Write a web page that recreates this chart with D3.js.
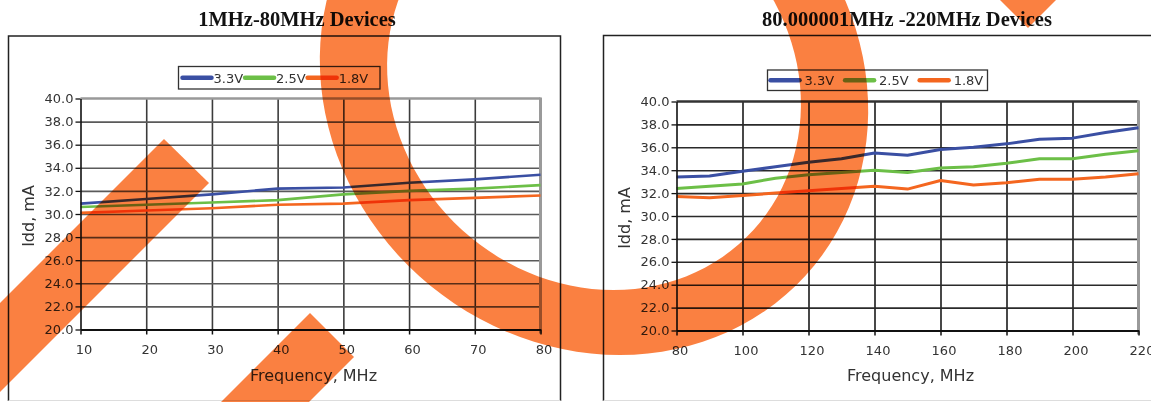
<!DOCTYPE html>
<html>
<head>
<meta charset="utf-8">
<script src="https://cdn.jsdelivr.net/npm/d3@7"></script>
<style>
  html, body { margin: 0; padding: 0; background: #fff; }
  svg { display: block; }
</style>
</head>
<body>
<svg id="chart" width="1151" height="402"></svg>
<script>
// ---------------- DATA ----------------
const seriesNames = ["3.3V", "2.5V", "1.8V"];
const seriesColors = ["#3a4fa3", "#6cbf47", "#f4661f"];

const leftTitle = "1MHz-80MHz Devices";
const leftFreq = [10, 20, 30, 40, 50, 60, 70, 80];
const left33 = [30.9, 31.3, 31.7, 32.2, 32.3, 32.7, 33.0, 33.4];
const left25 = [30.6, 30.8, 31.0, 31.2, 31.7, 32.0, 32.2, 32.5];
const left18 = [30.1, 30.3, 30.5, 30.8, 30.9, 31.2, 31.4, 31.6];
const leftXTicks = [10, 20, 30, 40, 50, 60, 70, 80];

const rightTitle = "80.000001MHz -220MHz Devices";
const rightFreq = [80, 90, 100, 110, 120, 130, 140, 150, 160, 170, 180, 190, 200, 210, 220];
const right33 = [33.4, 33.5, 33.9, 34.3, 34.7, 35.0, 35.5, 35.3, 35.8, 36.0, 36.3, 36.7, 36.8, 37.3, 37.7];
const right25 = [32.4, 32.6, 32.8, 33.3, 33.6, 33.8, 34.0, 33.8, 34.2, 34.3, 34.6, 35.0, 35.0, 35.4, 35.7];
const right18 = [31.7, 31.6, 31.8, 32.0, 32.2, 32.4, 32.6, 32.35, 33.1, 32.7, 32.9, 33.2, 33.2, 33.4, 33.7];
const rightXTicks = [80, 100, 120, 140, 160, 180, 200, 220];

const yTicks = [20, 22, 24, 26, 28, 30, 32, 34, 36, 38, 40];
const yLabel = "Idd, mA";
const xLabel = "Frequency, MHz";

// ---------------- DRAW ----------------
const svg = d3.select("#chart");
svg.append("rect").attr("width", 1151).attr("height", 402).attr("fill", "#fff");

const FONT = "'DejaVu Sans', Arial, sans-serif";

function drawChart(cfg) {
  const g = svg.append("g");
  // outer frame
  g.append("path")
    .attr("d", `M${cfg.box[0]},401 V${cfg.box[1]} H${cfg.box[2]} V401`)
    .attr("fill", "none").attr("stroke", "#222").attr("stroke-width", 1.5);
  g.append("line").attr("x1", cfg.box[0]).attr("x2", cfg.box[2]).attr("y1", 400.5).attr("y2", 400.5)
    .attr("stroke", "#ddd").attr("stroke-width", 1);

  // title
  g.append("text").attr("x", cfg.titleX).attr("y", 26)
    .attr("text-anchor", "middle")
    .attr("font-family", "'Liberation Serif', 'Times New Roman', serif")
    .attr("font-weight", "bold").attr("font-size", "20.5px").attr("fill", "#111")
    .text(cfg.title);

  const x = d3.scaleLinear().domain(cfg.xDomain).range([cfg.px0, cfg.px1]);
  const y = d3.scaleLinear().domain([20, 40]).range([cfg.py1, cfg.py0]);

  // vertical grid
  const gx = g.append("g").attr("transform", `translate(0,${cfg.py1})`)
    .call(d3.axisBottom(x).tickValues(cfg.xTicks.slice(1, -1)).tickSize(-(cfg.py1 - cfg.py0)).tickFormat(""));
  gx.select(".domain").remove();
  gx.selectAll("line").attr("stroke", cfg.vGrid).attr("stroke-width", 1.6);

  // horizontal grid
  const gy = g.append("g").attr("transform", `translate(${cfg.px0},0)`)
    .call(d3.axisLeft(y).tickValues(yTicks.slice(1, -1)).tickSize(-(cfg.px1 - cfg.px0)).tickFormat(""));
  gy.select(".domain").remove();
  gy.selectAll("line").attr("stroke", cfg.hGrid).attr("stroke-width", 1.6);

  // top and right plot borders (grey)
  g.append("line").attr("x1", cfg.px0).attr("x2", cfg.px1).attr("y1", cfg.py0).attr("y2", cfg.py0)
    .attr("stroke", cfg.topColor).attr("stroke-width", 2.6);
  g.append("line").attr("x1", cfg.px1).attr("x2", cfg.px1).attr("y1", cfg.py0 - 1).attr("y2", cfg.py1 + 4)
    .attr("stroke", "#9a9a9a").attr("stroke-width", 3);

  // data lines
  const line = d3.line().x(d => x(d[0])).y(d => y(d[1]));
  cfg.series.forEach((vals, i) => {
    g.append("path")
      .datum(cfg.freq.map((f, j) => [f, vals[j]]))
      .attr("d", line)
      .attr("fill", "none")
      .attr("stroke", seriesColors[i])
      .attr("stroke-width", cfg.lineW)
      .attr("stroke-linejoin", "round");
  });

  // axes
  const ax = g.append("g").attr("transform", `translate(0,${cfg.py1})`)
    .call(d3.axisBottom(x).tickValues(cfg.xTicks).tickSize(5).tickSizeOuter(0).tickPadding(10));
  ax.select(".domain").attr("stroke", "#111").attr("stroke-width", 2.2);
  ax.selectAll(".tick line").attr("stroke", "#111").attr("stroke-width", 1.5);
  ax.selectAll("text").attr("font-family", FONT).attr("font-size", "13px").attr("fill", "#333")
    .attr("dx", 3);

  const ay = g.append("g").attr("transform", `translate(${cfg.px0},0)`)
    .call(d3.axisLeft(y).tickValues(yTicks).tickSize(5).tickSizeOuter(0).tickPadding(2)
      .tickFormat(d3.format(".1f")));
  ay.select(".domain").attr("stroke", "#111").attr("stroke-width", 1.6);
  ay.selectAll(".tick line").attr("stroke", "#111").attr("stroke-width", 1.3);
  ay.selectAll("text").attr("font-family", FONT).attr("font-size", "13px").attr("fill", "#333");

  // axis titles
  g.append("text").attr("x", (cfg.px0 + cfg.px1) / 2 + 3).attr("y", 381)
    .attr("text-anchor", "middle").attr("font-family", FONT).attr("font-size", "16px").attr("fill", "#333")
    .text(xLabel);
  g.append("text").attr("transform", `translate(${cfg.yTitleX},${(cfg.py0 + cfg.py1) / 2 + 2}) rotate(-90)`)
    .attr("text-anchor", "middle").attr("font-family", FONT).attr("font-size", "16px").attr("fill", "#333")
    .text(yLabel);

  // legend
  const lg = g.append("g");
  const lb = cfg.legend;
  let cx = lb.x + lb.pad;
  const cy = lb.y + lb.h / 2;
  seriesNames.forEach((name, i) => {
    lg.append("line").attr("x1", cx).attr("x2", cx + lb.lineLen).attr("y1", cy).attr("y2", cy)
      .attr("stroke", seriesColors[i]).attr("stroke-width", 4.5).attr("stroke-linecap", "round");
    cx += lb.lineLen + lb.gapLine;
    const t = lg.append("text").attr("x", cx).attr("y", cy + 5)
      .attr("font-family", FONT).attr("font-size", "13px").attr("fill", "#333").text(name);
    cx += t.node().getComputedTextLength() + lb.gapText;
  });
  lg.insert("rect", ":first-child").attr("x", lb.x).attr("y", lb.y).attr("width", lb.w).attr("height", lb.h)
    .attr("fill", "#fff").attr("stroke", "#333").attr("stroke-width", 1.3);
}

drawChart({
  box: [8.5, 36, 560.5], title: leftTitle, titleX: 297,
  xDomain: [10, 80], px0: 80.5, px1: 540.5, py0: 98.5, py1: 329.5,
  xTicks: leftXTicks, freq: leftFreq, series: [left33, left25, left18],
  vGrid: "#3c3c3c", hGrid: "#5a5a5a", topColor: "#999", lineW: 2.6, yTitleX: 34,
  legend: { x: 178.5, y: 66.5, w: 201.5, h: 22.5, pad: 4, lineLen: 29, gapLine: 2, gapText: 2 }
});

drawChart({
  box: [603.5, 35.5, 1160], title: rightTitle, titleX: 907,
  xDomain: [80, 220], px0: 676.5, px1: 1138.5, py0: 101.5, py1: 330.5,
  xTicks: rightXTicks, freq: rightFreq, series: [right33, right25, right18],
  vGrid: "#1a1a1a", hGrid: "#2a2a2a", topColor: "#333", lineW: 3, yTitleX: 630,
  legend: { x: 767.5, y: 70, w: 220, h: 20.5, pad: 3, lineLen: 29, gapLine: 5, gapText: 11 }
});

// ---------------- WATERMARK (decorative overlay) ----------------
const wm = svg.append("g").style("mix-blend-mode", "multiply").attr("opacity", 0.93);
const wmColor = "rgb(250,118,50)";
function ellipsePath(cx, cy, rx, ry, shear) {
  const pts = d3.range(0, 361, 3).map(a => {
    const t = a * Math.PI / 180;
    const dy = ry * Math.sin(t);
    return [cx + rx * Math.cos(t) + shear * dy, cy + dy];
  });
  return d3.line()(pts) + "Z";
}
wm.append("path")
  .attr("d", ellipsePath(594, 85, 273, 270, 0.095) + ellipsePath(594, 85, 206, 205, 0.095))
  .attr("fill-rule", "evenodd").attr("fill", wmColor);
// diagonal bands
[[164, 139, 209, 183], [310, 313, 354, 357]].forEach(b => {
  wm.append("path")
    .attr("d", `M${b[0]},${b[1]} L${b[2]},${b[3]} L${b[2] - 400},${b[3] + 400} L${b[0] - 400},${b[1] + 400} Z`)
    .attr("fill", wmColor);
});
// chevron tip at top right
wm.append("path").attr("d", "M1028,28 L988,-12 L1068,-12 Z").attr("fill", wmColor);
</script>
</body>
</html>
